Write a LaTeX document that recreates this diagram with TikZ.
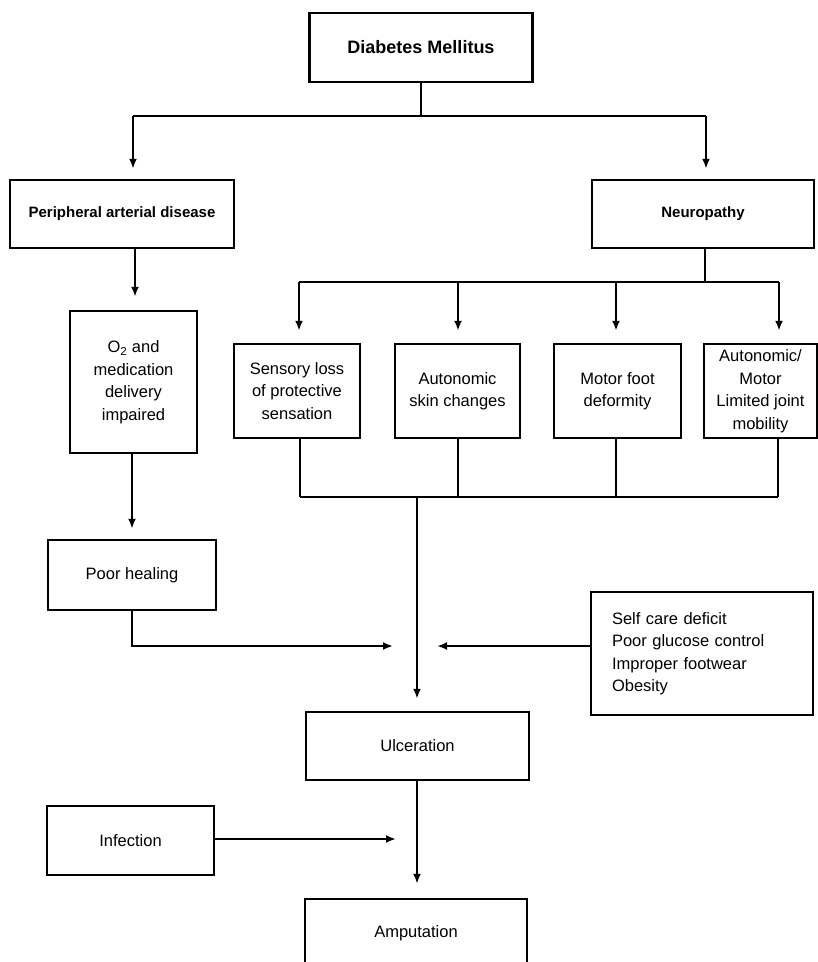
\documentclass[tikz,border=0pt]{standalone}
\usepackage{fontspec}
\setmainfont{Liberation Sans}
\usetikzlibrary{arrows.meta}
\begin{document}
\begin{tikzpicture}[x=1pt,y=-1pt,
  bx/.style={draw, line width=2.5pt, inner sep=2pt, align=center,
    font=\fontsize{16.5}{22.5}\selectfont},
  hd/.style={bx, font=\bfseries\fontsize{15}{20}\selectfont},
  ln/.style={line width=2.1pt},
  arr/.style={line width=2.1pt, -{Latex[length=10pt,width=8pt]}}
]
\useasboundingbox (0,0) rectangle (818,962);
\clip (0,0) rectangle (818,962);
\fill[white] (0,0) rectangle (818,962);

% boxes
\node[hd, minimum width=223pt, minimum height=69pt, font=\bfseries\fontsize{18}{22}\selectfont] (dm) at (421,47.5) {Diabetes Mellitus};
\node[hd, minimum width=224pt, minimum height=68pt] (pad) at (122,214) {Peripheral arterial disease};
\node[hd, minimum width=222pt, minimum height=68pt] (neu) at (703,214) {Neuropathy};
\node[bx, minimum width=127pt, minimum height=142pt] (o2) at (133.5,382) {O\textsubscript{2} and\\medication\\delivery\\impaired};
\node[bx, minimum width=126pt, minimum height=94pt] (sen) at (297,391) {Sensory loss\\of protective\\sensation};
\node[bx, minimum width=125pt, minimum height=94pt] (ask) at (457.5,391) {Autonomic\\skin changes};
\node[bx, minimum width=127pt, minimum height=94pt] (mot) at (617.5,391) {Motor foot\\deformity};
\node[bx, minimum width=113pt, minimum height=94pt] (amo) at (760.5,391) {Autonomic/\\Motor\\Limited joint\\mobility};
\node[bx, minimum width=168pt, minimum height=70pt] (ph) at (132,575) {Poor healing};
\node[bx, minimum width=222pt, minimum height=123pt, text width=180pt, align=left] (sc) at (702,653.5) {Self care deficit\\Poor glucose control\\Improper footwear\\Obesity};
\node[bx, minimum width=223pt, minimum height=68pt] (ulc) at (417.5,746) {Ulceration};
\node[bx, minimum width=167pt, minimum height=69pt] (inf) at (130.5,840.5) {Infection};
\node[bx, minimum width=222pt, minimum height=68pt] (amp) at (416,933) {Amputation};

% top bus
\coordinate (b1L) at (133,116);
\coordinate (b1R) at (706,116);
\draw[ln] (dm.south) -- (dm.south |- b1L);
\draw[ln] (b1L) -- (b1R);
\draw[arr, shorten >=10pt] (b1L) -- (b1L |- pad.north);
\draw[arr, shorten >=10pt] (b1R) -- (b1R |- neu.north);

% PAD -> O2
\draw[arr, shorten >=13pt] (pad.south -| 135,0) -- (o2.north -| 135,0);

% neuropathy bus
\coordinate (b2a) at (299,282);
\coordinate (b2b) at (458,282);
\coordinate (b2c) at (616,282);
\coordinate (b2d) at (779,282);
\draw[ln] (neu.south -| 705,0) -- (705,282);
\draw[ln] (b2a) -- (b2d);
\draw[arr, shorten >=12pt] (b2a) -- (b2a |- sen.north);
\draw[arr, shorten >=12pt] (b2b) -- (b2b |- ask.north);
\draw[arr, shorten >=12pt] (b2c) -- (b2c |- mot.north);
\draw[arr, shorten >=12pt] (b2d) -- (b2d |- amo.north);

% lower bus
\coordinate (b3a) at (300,497);
\coordinate (b3b) at (458,497);
\coordinate (b3c) at (616,497);
\coordinate (b3d) at (778,497);
\coordinate (b3m) at (417,497);
\draw[ln] (b3a |- sen.south) -- (b3a);
\draw[ln] (b3b |- ask.south) -- (b3b);
\draw[ln] (b3c |- mot.south) -- (b3c);
\draw[ln] (b3d |- amo.south) -- (b3d);
\draw[ln] (b3a) -- (b3d);
\draw[arr, shorten >=12pt] (b3m) -- (b3m |- ulc.north);

% O2 -> poor healing
\draw[arr, shorten >=10pt] (o2.south -| 132,0) -- (ph.north -| 132,0);

% poor healing -> centre
\coordinate (phc) at (132,646);
\coordinate (phend) at (393,646);
\draw[arr] (ph.south -| phc) -- (phc) -- (phend);

% self care -> centre
\coordinate (scend) at (437,646);
\draw[arr] (sc.west |- scend) -- (scend);

% ulceration -> amputation
\draw[arr, shorten >=14pt] (ulc.south -| 417,0) -- (amp.north -| 417,0);

% infection -> centre
\coordinate (infend) at (396,839);
\draw[arr] (inf.east |- infend) -- (infend);
\end{tikzpicture}
\end{document}
